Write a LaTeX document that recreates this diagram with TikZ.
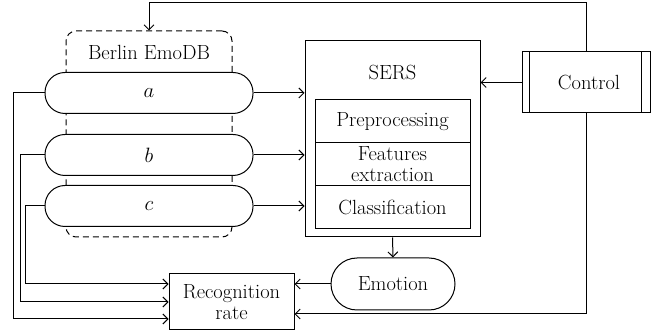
\documentclass[tikz,border=0pt]{standalone}
\usetikzlibrary{arrows.meta,calc}
\tikzset{
  box/.style={draw,fill=white,inner sep=0pt,align=center},
  pill/.style={box,rounded corners=20pt,minimum width=208pt,minimum height=41pt},
  arr/.style={-{Straight Barb[length=5pt,width=10pt]}}
}
\begin{document}
\begin{tikzpicture}[x=1pt,y=1pt,line width=1pt,font=\fontsize{20.5}{21}\selectfont]
   \useasboundingbox (0,0) rectangle (652,331);
   % data base
   \node [draw,dash pattern=on 6pt off 4pt,rounded corners=10pt,minimum width=166pt,minimum height=206pt,inner sep=0pt] (db) at (149,197) {};
   \node (dbname) at (149,279) {Berlin EmoDB};
   \node [pill] (a) at (149,238) {$a$};
   \node [pill] (b) at (149,176) {$b$};
   \node [pill] (c) at (149,125) {$c$};
   % recognizer
   \node [box,minimum width=175pt,minimum height=196pt] (sers) at (392.5,192) {};
   \node (sersname) at (392.5,258) {SERS};
   \node [box,minimum width=155pt,minimum height=43pt] (pre) at (392.5,209.5) {Preprocessing};
   \node [box,minimum width=155pt,minimum height=43pt] (feat) at (392.5,166.5) {Features\\extraction};
   \node [box,minimum width=155pt,minimum height=43pt] (cls) at (392.5,124) {Classification};
   \node [box,rounded corners=26pt,minimum width=124pt,minimum height=52pt] (emo) at (393,47) {Emotion};
   \node [box,minimum width=125pt,minimum height=56pt] (rec) at (231.5,29) {Recognition\\rate};
   % control
   \node [box,minimum width=128pt,minimum height=61pt] (ctrl) at (586,248.5) {\hspace{6pt}Control};
   \draw ([xshift=8pt]ctrl.north west) -- ([xshift=8pt]ctrl.south west);
   \draw ([xshift=-9pt]ctrl.north east) -- ([xshift=-9pt]ctrl.south east);
   % connections
   \draw [arr] (ctrl.north) -- ++(0,48.5) -| (db.north);
   \draw [arr] (ctrl.west) -- (ctrl.west -| sers.east);
   \draw [arr] (ctrl.south) |- ([yshift=-12pt]rec.east);
   \draw [arr] (sers.south) -- (emo.north);
   \draw [arr] (emo.west) -- (emo.west -| rec.east);
   \draw [arr] (a.east) -- (a.east -| sers.west);
   \draw [arr] (b.east) -- (b.east -| sers.west);
   \draw [arr] (c.east) -- (c.east -| sers.west);
   \draw [arr] (a.west) -- ++(-31,0) |- ([yshift=-17pt]rec.west);
   \draw [arr] (b.west) -- ++(-24,0) |- (rec.west);
   \draw [arr] (c.west) -- ++(-19,0) |- ([yshift=18pt]rec.west);
\end{tikzpicture}
\end{document}
